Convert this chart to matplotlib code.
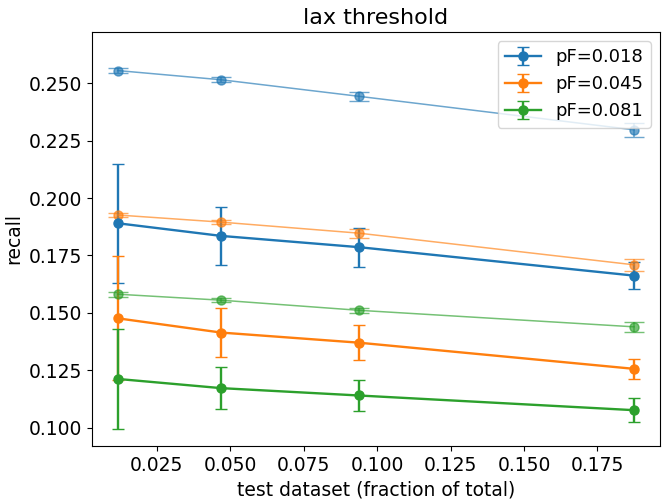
import matplotlib
matplotlib.use("Agg")
import matplotlib.pyplot as plt
import numpy as np

plt.rcParams["font.size"] = 13.5

# test set size as a fraction of the whole dataset
test_fraction = np.array([3 / 256, 3 / 64, 3 / 32, 3 / 16])

labels = ["pF=0.018", "pF=0.045", "pF=0.081"]
colors = ["#1f77b4", "#ff7f0e", "#2ca02c"]

# recall on held-out data (mean, std over runs)
recall_test = [
    [0.1890, 0.1835, 0.1786, 0.1662],
    [0.1476, 0.1414, 0.1370, 0.1256],
    [0.1212, 0.1172, 0.1140, 0.1076],
]
recall_test_err = [
    [0.0258, 0.0125, 0.0085, 0.0060],
    [0.0270, 0.0106, 0.0076, 0.0045],
    [0.0216, 0.0092, 0.0066, 0.0051],
]

# recall on the training data, drawn lighter
recall_train = [
    [0.2555, 0.2515, 0.2443, 0.2297],
    [0.1926, 0.1895, 0.1847, 0.1709],
    [0.1581, 0.1555, 0.1511, 0.1439],
]
recall_train_err = [
    [0.0010, 0.0010, 0.0020, 0.0030],
    [0.0010, 0.0010, 0.0020, 0.0025],
    [0.0010, 0.0010, 0.0010, 0.0022],
]

yticks = [0.100, 0.125, 0.150, 0.175, 0.200, 0.225, 0.250]
xticks = [0.025, 0.050, 0.075, 0.100, 0.125, 0.150, 0.175]

fig, ax = plt.subplots(figsize=(6.72, 5.0), dpi=100)

for i in range(3):
    ax.errorbar(test_fraction, recall_train[i], yerr=recall_train_err[i],
                color=colors[i], alpha=0.65, linewidth=1.1, marker="o",
                markersize=6.5, capsize=7.5)
for i in range(3):
    ax.errorbar(test_fraction, recall_test[i], yerr=recall_test_err[i],
                color=colors[i], linewidth=1.7, marker="o", markersize=6.5,
                capsize=4, label=labels[i])

ax.set_title("lax threshold", fontsize=16)
ax.set_xlabel("test dataset (fraction of total)")
ax.set_ylabel("recall")
ax.set_xticks(xticks)
ax.set_xticklabels([f"{t:.3f}" for t in xticks])
ax.set_yticks(yticks)
ax.set_yticklabels([f"{t:.3f}" for t in yticks])
ax.set_ylim(0.092, 0.2723)
ax.legend(loc="upper right", fontsize=13)

fig.subplots_adjust(left=0.137, right=0.982, top=0.936, bottom=0.108)
fig.savefig("out.png", dpi=100)
